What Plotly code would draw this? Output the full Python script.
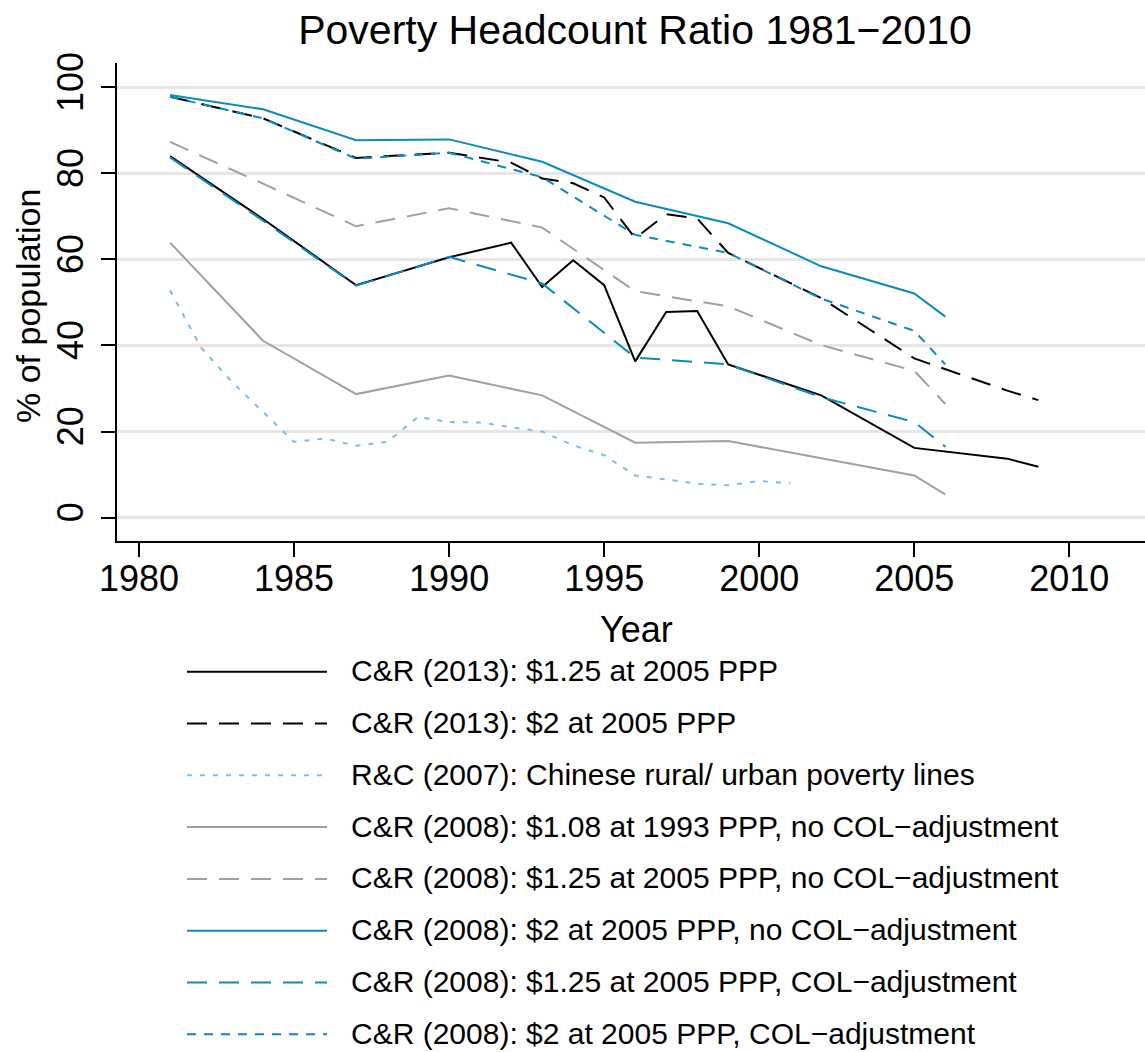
import plotly.graph_objects as go

# ---- data (% of population below the poverty line, China) ----
years_cr2013 = [1981, 1984, 1987, 1990, 1992, 1993, 1994, 1995, 1996, 1997, 1998, 1999, 2002, 2005, 2008, 2009]
cr2013_125 = [84.0, 69.4, 54.0, 60.5, 63.9, 53.6, 59.8, 54.0, 36.3, 47.8, 48.0, 35.6, 28.4, 16.2, 13.7, 11.8]
cr2013_2 = [97.8, 92.8, 83.6, 84.8, 82.5, 78.8, 77.7, 74.4, 64.9, 70.5, 69.5, 61.5, 51.0, 37.0, 29.5, 27.3]

years_rc2007 = list(range(1981, 2002))
rc2007_national = [52.8, 39.5, 31.5, 24.5, 17.6, 18.4, 16.7, 17.6, 23.4, 22.2, 22.1, 21.0, 20.0, 16.8, 14.5,
                   9.8, 8.8, 7.9, 7.5, 8.5, 8.0]

years_cr2008 = [1981, 1984, 1987, 1990, 1993, 1996, 1999, 2002, 2005, 2006]
cr2008_108_nocol = [63.9, 41.1, 28.7, 33.0, 28.4, 17.4, 17.8, 13.8, 9.8, 5.4]
cr2008_125_nocol = [87.3, 77.6, 67.7, 71.9, 67.4, 52.6, 49.1, 40.1, 34.1, 26.4]
cr2008_2_nocol = [98.2, 94.9, 87.7, 87.9, 82.7, 73.4, 68.4, 58.4, 52.1, 46.7]
cr2008_125_col = [83.7, 69.0, 53.9, 60.6, 54.4, 37.2, 35.6, 28.0, 22.2, 16.5]
cr2008_2_col = [97.8, 92.8, 83.4, 84.8, 79.1, 65.7, 61.5, 50.9, 43.4, 35.6]

x_ticks = [1980, 1985, 1990, 1995, 2000, 2005, 2010]
y_ticks = [0, 20, 40, 60, 80, 100]

labels = [
    "C&R (2013): $1.25 at 2005 PPP",
    "C&R (2013): $2 at 2005 PPP",
    "R&C (2007): Chinese rural/ urban poverty lines",
    "C&R (2008): $1.08 at 1993 PPP, no COL\u2212adjustment",
    "C&R (2008): $1.25 at 2005 PPP, no COL\u2212adjustment",
    "C&R (2008): $2 at 2005 PPP, no COL\u2212adjustment",
    "C&R (2008): $1.25 at 2005 PPP, COL\u2212adjustment",
    "C&R (2008): $2 at 2005 PPP, COL\u2212adjustment",
]

# ---- styles ----
BLUE = "#0a8bbf"
LTBLUE = "#7dbde9"
GRAY = "#a0a0a0"
BLACK = "#000000"
LONG = "20px,12px"
SHORT = "9px,8px"
DOT = "5px,8px"
FONT = "Liberation Sans, Arial, Helvetica, sans-serif"

series = [
    (years_cr2013, cr2013_125, BLACK, "solid"),
    (years_cr2013, cr2013_2, BLACK, LONG),
    (years_rc2007, rc2007_national, LTBLUE, DOT),
    (years_cr2008, cr2008_108_nocol, GRAY, "solid"),
    (years_cr2008, cr2008_125_nocol, GRAY, LONG),
    (years_cr2008, cr2008_2_nocol, BLUE, "solid"),
    (years_cr2008, cr2008_125_col, BLUE, LONG),
    (years_cr2008, cr2008_2_col, BLUE, SHORT),
]

fig = go.Figure()
for (xs, ys, color, dash), name in zip(series, labels):
    fig.add_trace(go.Scatter(
        x=xs, y=ys, mode="lines", name=name, showlegend=False,
        line=dict(color=color, width=2, dash=dash),
    ))

# ---- layout geometry (pixels) ----
W, H = 1145, 1052
L, R, T, B = 117, 0, 63, 511
pw, ph = W - L - R, H - T - B


def px_x(px):
    return (px - L) / pw


def px_y(py):
    return (H - B - py) / ph


# legend drawn below the plot: sample line + label per series
shapes = []
annotations = []
row_y = [671.7 + 51.8 * i for i in range(len(labels))]
for (xs, ys, color, dash), name, ry in zip(series, labels, row_y):
    shapes.append(dict(
        type="line", xref="paper", yref="paper",
        x0=px_x(187), x1=px_x(327), y0=px_y(ry), y1=px_y(ry),
        line=dict(color=color, width=2, dash=dash),
    ))
    annotations.append(dict(
        xref="paper", yref="paper", x=px_x(349), y=px_y(ry - 1),
        xanchor="left", yanchor="middle", showarrow=False,
        text=name, font=dict(family=FONT, size=30, color="black"),
    ))

# axis titles
annotations.append(dict(
    xref="paper", yref="paper", x=px_x(636), y=px_y(629),
    xanchor="center", yanchor="middle", showarrow=False,
    text="Year", font=dict(family=FONT, size=36, color="black"),
))
annotations.append(dict(
    xref="paper", yref="paper", x=px_x(28), y=px_y(306),
    xanchor="center", yanchor="middle", showarrow=False, textangle=-90,
    text="% of population", font=dict(family=FONT, size=34, color="black"),
))

fig.update_layout(
    width=W, height=H,
    margin=dict(l=L, r=R, t=T, b=B, pad=0),
    paper_bgcolor="white", plot_bgcolor="white",
    font=dict(family=FONT, color="black"),
    title=dict(
        text="Poverty Headcount Ratio 1981\u22122010",
        x=635 / W, xref="container", xanchor="center",
        y=1 - 30 / H, yref="container", yanchor="middle",
        font=dict(family=FONT, size=41, color="black"),
    ),
    shapes=shapes,
    annotations=annotations,
    showlegend=False,
)

fig.update_xaxes(
    range=[1979.29, 2012.44],
    tickmode="array", tickvals=x_ticks, ticktext=[str(v) for v in x_ticks],
    ticks="outside", ticklen=14, tickwidth=2, tickcolor="black",
    showline=True, linewidth=2, linecolor="black",
    showgrid=False, zeroline=False, ticklabelstandoff=-9,
    tickfont=dict(family=FONT, size=36, color="black"),
)
fig.update_yaxes(
    range=[-5.44, 105.65],
    tickmode="array", tickvals=y_ticks, ticktext=[str(v) for v in y_ticks],
    ticks="outside", ticklen=14, tickwidth=2, tickcolor="black",
    showline=True, linewidth=2, linecolor="black",
    showgrid=True, gridcolor="#e6e6e6", gridwidth=2.5,
    zeroline=False, tickangle=-90, ticklabelstandoff=4,
    tickfont=dict(family=FONT, size=36, color="black"),
)

fig.write_html("out.html")
